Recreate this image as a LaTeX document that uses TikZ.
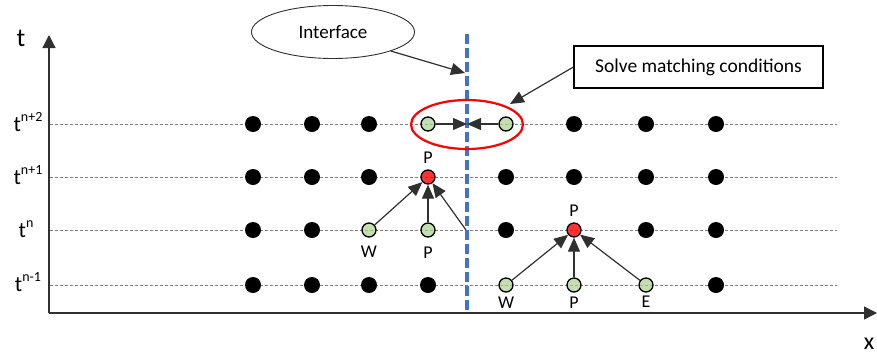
\documentclass[tikz,border=0pt]{standalone}
\usepackage{fontspec}
\setmainfont{Carlito}
\usetikzlibrary{arrows.meta,shapes.geometric}
\definecolor{gfill}{HTML}{A9D18E}
\definecolor{ifblue}{HTML}{4472C4}
\definecolor{gridgray}{HTML}{7F7F7F}
\definecolor{linegray}{HTML}{303030}
\begin{document}
\begin{tikzpicture}[x=1pt,y=-1pt,
  bdot/.style={circle,fill=black,inner sep=0pt,minimum size=16pt},
  gdot/.style={circle,draw=black,line width=1.3pt,fill=gfill,fill opacity=0.7,inner sep=0pt,minimum size=14pt},
  rdot/.style={circle,draw=black,line width=1.3pt,fill=red,fill opacity=0.8,inner sep=0pt,minimum size=14pt},
  gridline/.style={draw=gridgray,dash pattern=on 3pt off 2pt,line width=0.8pt},
  conn/.style={draw=linegray,line width=1.2pt,-{Triangle[length=14pt,width=12pt]}},
  axisline/.style={draw=linegray,line width=1.3pt,-{Triangle[length=13pt,width=13pt]}},
  lbl/.style={font=\fontsize{18}{20}\selectfont,inner sep=0pt},
  tlbl/.style={font=\fontsize{22}{24}\selectfont,inner sep=0pt,anchor=base},
]
\useasboundingbox (0,0) rectangle (877,354);

% grid lines
\foreach \yy in {124,177,230,285}{
  \draw[gridline] (50,\yy) -- (837,\yy);
}

% axes
\coordinate (O) at (49,313);
\coordinate (ytop) at (49,35);
\coordinate (xend) at (877,313);
\draw[axisline] (O) -- (ytop);
\draw[axisline] (O) -- (xend);
\node[font=\fontsize{26}{28}\selectfont,inner sep=0pt] (tax) at (21,38) {t};
\node[font=\fontsize{24}{26}\selectfont,inner sep=0pt] (xax) at (869,344) {x};

% row labels
\newcommand{\tsup}[1]{t\raisebox{0.42em}{\fontsize{14}{15}\selectfont #1}}
\node[tlbl] (l1) at (28,131) {\tsup{n+2}};
\node[tlbl] (l2) at (28,184) {\tsup{n+1}};
\node[tlbl] (l3) at (26,237) {\tsup{n}};
\node[tlbl] (l4) at (28,291) {\tsup{n-1}};

% interface line
\coordinate (ib1) at (467,34);
\coordinate (ib2) at (467,313);
\draw[ifblue,line width=3.2pt,dash pattern=on 10pt off 4pt] (ib1) -- (ib2);

% red ellipse
\node[draw=red,line width=2.2pt,ellipse,minimum width=112pt,minimum height=49pt] (match) at (467,124.5) {};

% row n+2
\node[bdot] (a1) at (253,124) {};
\node[bdot] (a2) at (312,124) {};
\node[bdot] (a3) at (369,124) {};
\node[gdot] (a4) at (428,124) {};
\node[gdot] (a5) at (506,124) {};
\node[bdot] (a6) at (574,124) {};
\node[bdot] (a7) at (646,124) {};
\node[bdot] (a8) at (716,124) {};
% row n+1
\node[bdot] (b1) at (253,177) {};
\node[bdot] (b2) at (312,177) {};
\node[bdot] (b3) at (369,177) {};
\node[rdot] (b4) at (428,177) {};
\node[bdot] (b5) at (506,177) {};
\node[bdot] (b6) at (574,177) {};
\node[bdot] (b7) at (646,177) {};
\node[bdot] (b8) at (716,177) {};
% row n
\node[bdot] (c1) at (253,230) {};
\node[bdot] (c2) at (312,230) {};
\node[gdot] (c3) at (369,230) {};
\node[gdot] (c4) at (428,230) {};
\node[bdot] (c5) at (506,230) {};
\node[rdot] (c6) at (574,230) {};
\node[bdot] (c7) at (646,230) {};
\node[bdot] (c8) at (716,230) {};
% row n-1
\node[bdot] (d1) at (253,285) {};
\node[bdot] (d2) at (312,285) {};
\node[bdot] (d3) at (369,285) {};
\node[bdot] (d4) at (428,285) {};
\node[gdot] (d5) at (506,285) {};
\node[gdot] (d6) at (574,285) {};
\node[gdot] (d7) at (646,285) {};
\node[bdot] (d8) at (716,285) {};

% point labels
\node[lbl] (pb4) at (428,158) {P};
\node[lbl] (wc3) at (369,252) {W};
\node[lbl] (pc4) at (428,253) {P};
\node[lbl] (pc6) at (574,211) {P};
\node[lbl] (wd5) at (506,303) {W};
\node[lbl] (pd6) at (574,303) {P};
\node[lbl] (ed7) at (646,302) {E};

% interface coordinates
\coordinate (itop) at (467,124);
\coordinate (imid) at (466,230);

% connectors
\draw[conn] (a4) -- (itop);
\draw[conn] (a5) -- (itop);
\draw[conn] (c3) -- (b4);
\draw[conn] (c4) -- (b4);
\draw[conn] (imid) -- (b4);
\draw[conn] (d5) -- (c6);
\draw[conn] (d6) -- (c6);
\draw[conn] (d7) -- (c6);

% callouts
\node[draw=linegray,line width=0.9pt,ellipse,minimum width=163pt,minimum height=53pt,font=\fontsize{19}{21}\selectfont] (iface) at (333,32) {Interface};
\coordinate (iarr) at (465,73);
\draw[conn] (iface.south east) -- (iarr);
\node[draw=black,line width=1.2pt,minimum width=249pt,minimum height=42pt,font=\fontsize{19.5}{21}\selectfont] (solve) at (698.5,67) {Solve matching conditions};
\coordinate (sarr) at (510,104);
\draw[conn] (solve.west) -- (sarr);
\end{tikzpicture}
\end{document}
